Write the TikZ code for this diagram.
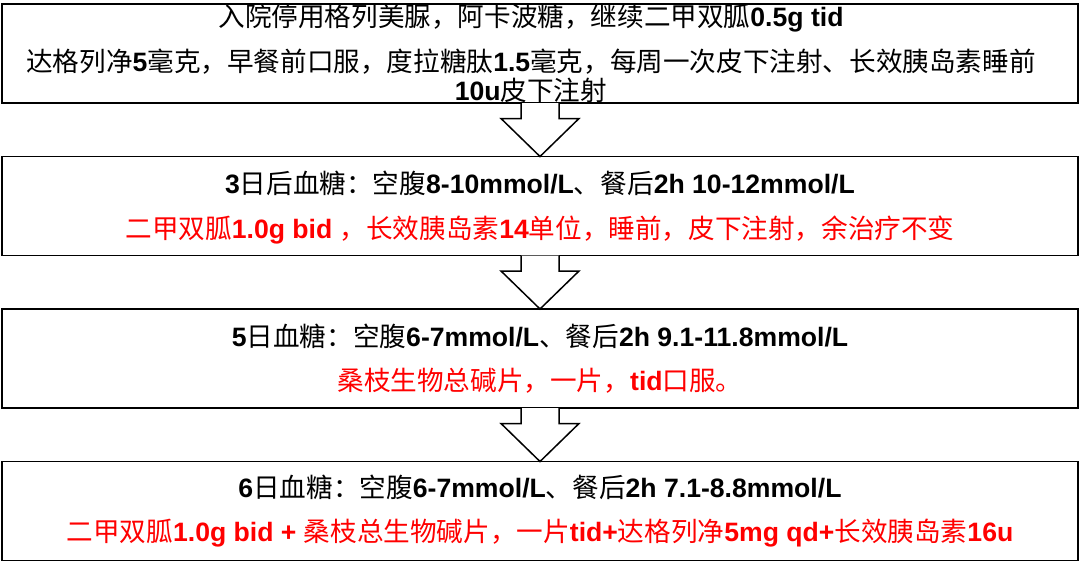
\documentclass[tikz,border=0pt]{standalone}
\usepackage{fontspec}
\setmainfont{Noto Sans CJK SC}
\newfontfamily\latinfont{Liberation Sans}
\newcommand\latn[1]{{\latinfont\bfseries #1}}
\usetikzlibrary{positioning}
\begin{document}
\begin{tikzpicture}[
            node distance=26.75pt,
            stepbox/.style = {draw=black, line width=0.75pt, fill=white, minimum width=538pt, minimum height=49.5pt, inner sep=0pt, outer sep=0pt},
            txt/.style = {align=center, inner sep=0pt, font=\fontsize{13.3}{22.2}\selectfont},
            flowarrow/.style = {draw=black, line width=0.75pt, fill=white, line join=miter}
          ]
          \useasboundingbox (0,0) rectangle (540pt,-281pt);
          \node[stepbox] (b1) at (270pt,-26.75pt) {};
          \node[stepbox, below=of b1] (b2) {};
          \node[stepbox, below=of b2] (b3) {};
          \node[stepbox, below=of b3] (b4) {};
          \foreach \a/\b in {b1/b2, b2/b3, b3/b4}
            \draw[flowarrow] ([xshift=-9.5pt]\a.south) -- ([xshift=-9.5pt,yshift=19pt]\b.north)
              -- ([xshift=-19.5pt,yshift=19pt]\b.north) -- (\b.north)
              -- ([xshift=19.5pt,yshift=19pt]\b.north) -- ([xshift=9.5pt,yshift=19pt]\b.north)
              -- ([xshift=9.5pt]\a.south);
          \node[txt] (t1) at ([xshift=-4.5pt]b1.center) {入院停用格列美脲，阿卡波糖，继续二甲双胍\latn{0.5g tid}\\
            达格列净\latn{5}毫克，早餐前口服，度拉糖肽\latn{1.5}毫克，每周一次皮下注射、长效胰岛素睡前\\[-7.7pt]
            \latn{10u}皮下注射};
          \node[txt] (t2) at ([yshift=-0.7pt]b2.center) {\latn{3}日后血糖：空腹\latn{8-10mmol/L}、餐后\latn{2h 10-12mmol/L}\\
            \color{red}二甲双胍\latn{1.0g bid }，长效胰岛素\latn{14}单位，睡前，皮下注射，余治疗不变};
          \node[txt] (t3) at (b3.center) {\latn{5}日血糖：空腹\latn{6-7mmol/L}、餐后\latn{2h 9.1-11.8mmol/L}\\
            \color{red}桑枝生物总碱片，一片，\latn{tid}口服。};
          \node[txt] (t4) at (b4.center) {\latn{6}日血糖：空腹\latn{6-7mmol/L}、餐后\latn{2h 7.1-8.8mmol/L}\\
            \color{red}二甲双胍\latn{1.0g bid + }桑枝总生物碱片，一片\latn{tid+}达格列净\latn{5mg qd+}长效胰岛素\latn{16u}};
\end{tikzpicture}
\end{document}
